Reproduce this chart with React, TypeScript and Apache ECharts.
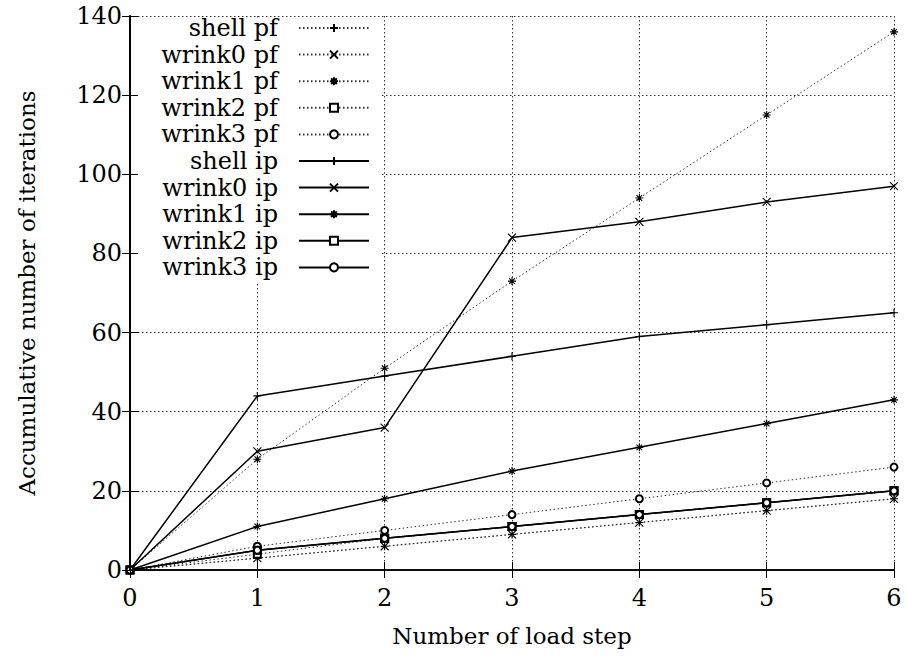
import React, { useEffect, useRef } from "react";
import * as echarts from "echarts";

const steps = [0, 1, 2, 3, 4, 5, 6];
const shellPf = [0, 3, 6, 9, 12, 15, 18];
const wrink0Pf = [0, 3, 6, 9, 12, 15, 18];
const wrink1Pf = [0, 28, 51, 73, 94, 115, 136];
const wrink2Pf = [0, 4, 8, 11, 14, 17, 20];
const wrink3Pf = [0, 6, 10, 14, 18, 22, 26];
const shellIp = [0, 44, 49, 54, 59, 62, 65];
const wrink0Ip = [0, 30, 36, 84, 88, 93, 97];
const wrink1Ip = [0, 11, 18, 25, 31, 37, 43];
const wrink2Ip = [0, 5, 8, 11, 14, 17, 20];
const wrink3Ip = [0, 5, 8, 11, 14, 17, 20];
const yTicks = [0, 20, 40, 60, 80, 100, 120, 140];

const PLUS = "path://M0,5L10,5M5,0L5,10";
const CROSS = "path://M0,0L10,10M10,0L0,10";
const STAR = "path://M0,5L10,5M5,0L5,10M1.5,1.5L8.5,8.5M8.5,1.5L1.5,8.5";

const FONT = "'DejaVu Serif', serif";

export default function App() {
  const ref = useRef<HTMLDivElement>(null);
  useEffect(() => {
    if (!ref.current) return;
    const chart = echarts.init(ref.current, undefined, { renderer: "svg" });
    const defs = [
      { name: "shell pf", data: shellPf, sym: PLUS, dotted: true },
      { name: "wrink0 pf", data: wrink0Pf, sym: CROSS, dotted: true },
      { name: "wrink1 pf", data: wrink1Pf, sym: STAR, dotted: true },
      { name: "wrink2 pf", data: wrink2Pf, sym: "emptyRect", dotted: true },
      { name: "wrink3 pf", data: wrink3Pf, sym: "emptyCircle", dotted: true },
      { name: "shell ip", data: shellIp, sym: PLUS, dotted: false },
      { name: "wrink0 ip", data: wrink0Ip, sym: CROSS, dotted: false },
      { name: "wrink1 ip", data: wrink1Ip, sym: STAR, dotted: false },
      { name: "wrink2 ip", data: wrink2Ip, sym: "emptyRect", dotted: false },
      { name: "wrink3 ip", data: wrink3Ip, sym: "emptyCircle", dotted: false },
    ];
    const series = defs.map((d) => {
      const empty = d.sym.startsWith("empty");
      return {
        name: d.name,
        type: "line",
        data: d.data.map((v, i) => [steps[i], v]),
        symbol: d.sym,
        symbolSize: empty ? 7 : 8,
        showAllSymbol: true,
        lineStyle: {
          color: d.dotted ? "#333" : "#000",
          width: d.dotted ? 1 : 1.5,
          type: d.dotted ? [1.5, 2.5] : "solid",
        },
        itemStyle: {
          color: "#000",
          borderColor: "#000",
          borderWidth: empty ? 1 : 1.1,
        },
        emphasis: { disabled: true },
        z: 3,
      };
    });
    const legends = defs.map((d, i) => ({
      data: [d.name],
      right: 537,
      top: 16 + i * 26.6,
      orient: "horizontal",
      align: "right",
      itemWidth: 70,
      itemHeight: 10,
      itemGap: 0,
      padding: 0,
      selectedMode: false,
      textStyle: { fontFamily: FONT, fontSize: 24, color: "#000", padding: [0, 16, 0, 0] },
      z: 6,
    }));
    const tickAxisBase = {
      axisLabel: { show: false },
      axisTick: { show: true, inside: true, length: 8, lineStyle: { color: "#000", width: 1 } },
      axisLine: { show: true, lineStyle: { color: "#000", width: 1.5 } },
      splitLine: { show: false },
    };
    chart.setOption({
      animation: false,
      backgroundColor: "#fff",
      textStyle: { fontFamily: FONT },
      grid: { left: 130, right: 13, top: 16, bottom: 89, containLabel: false },
      legend: legends,
      graphic: [
        {
          type: "rect",
          shape: { x: 132, y: 18, width: 250, height: 265 },
          style: { fill: "#fff" },
          z: 1,
        },
      ],
      xAxis: [
        {
          type: "value",
          min: 0,
          max: 6,
          interval: 1,
          name: "Number of load step",
          nameLocation: "middle",
          nameGap: 54,
          nameTextStyle: { fontFamily: FONT, fontSize: 23, color: "#000" },
          axisLabel: { fontFamily: FONT, fontSize: 24, color: "#000", margin: 16 },
          axisTick: { show: true, inside: true, length: 8, lineStyle: { color: "#000" } },
          axisLine: { show: true, lineStyle: { color: "#000", width: 1.5 } },
          splitLine: { show: true, lineStyle: { color: "#333", width: 1, type: [1.5, 2.5] } },
          z: 0,
        },
        { type: "value", min: 0, max: 6, interval: 1, position: "top", ...tickAxisBase, z: 4 },
      ],
      yAxis: [
        {
          type: "value",
          min: 0,
          max: 140,
          interval: 20,
          name: "Accumulative number of iterations",
          nameLocation: "middle",
          nameGap: 92,
          nameTextStyle: { fontFamily: FONT, fontSize: 23, color: "#000" },
          axisLabel: {
            fontFamily: FONT,
            fontSize: 24,
            color: "#000",
            margin: 8,
            formatter: (v: number) => (yTicks.includes(v) ? String(v) : ""),
          },
          axisTick: { show: true, inside: true, length: 8, lineStyle: { color: "#000" } },
          axisLine: { show: true, lineStyle: { color: "#000", width: 1.5 } },
          splitLine: { show: true, lineStyle: { color: "#333", width: 1, type: [1.5, 2.5] } },
          z: 0,
        },
        { type: "value", min: 0, max: 140, interval: 20, position: "right", ...tickAxisBase, z: 4 },
        { type: "value", min: 0, max: 140, interval: 20, position: "left", ...tickAxisBase, z: 4 },
      ],
      series,
    });
    return () => chart.dispose();
  }, []);
  return (
    <div
      ref={ref}
      style={{ position: "absolute", left: 0, top: 0, width: 907, height: 659 }}
    />
  );
}
